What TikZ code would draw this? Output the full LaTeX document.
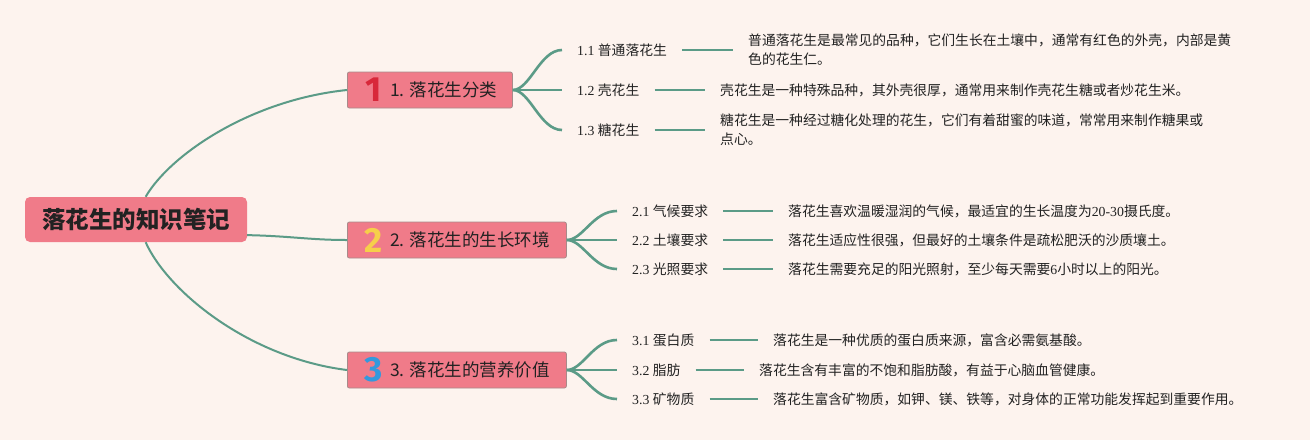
\documentclass[tikz,border=0pt]{standalone}
\usepackage{fontspec}
\setmainfont{Noto Sans CJK SC}
\newfontfamily\ser{Liberation Serif}
\newfontfamily\icf{Fira Sans}
\definecolor{bg}{HTML}{FDF3EE}
\definecolor{boxc}{HTML}{F07B89}
\definecolor{bord}{HTML}{A88A8A}
\definecolor{lc}{HTML}{5B9B87}
\definecolor{txt}{HTML}{222222}
\definecolor{icA}{HTML}{D8283A}
\definecolor{icB}{HTML}{F6CF4A}
\definecolor{icC}{HTML}{3499DD}
\begin{document}
\begin{tikzpicture}[x=1pt,y=-1pt,
 conn/.style={draw=lc, line width=2pt},
 sconn/.style={draw=lc, line width=2.6pt},
 rootbox/.style={fill=boxc, rounded corners=5pt, minimum width=222pt, minimum height=45pt, inner sep=0pt, font=\fontsize{23.5}{26}\selectfont\bfseries, text=txt},
 brbox/.style={fill=boxc, draw=bord, line width=0.8pt, rounded corners=2pt, minimum height=36pt, inner sep=0pt, anchor=west},
 brtext/.style={anchor=west, inner sep=0pt, font=\fontsize{17.5}{20}\selectfont, text=txt},
 icon/.style={inner sep=0pt, font=\icf\bfseries\fontsize{35}{35}\selectfont},
 lab/.style={anchor=west, inner xsep=15pt, inner ysep=0pt, font=\fontsize{13.8}{19}\selectfont, text=txt},
 desc/.style={lab, align=left},
]
\fill[bg] (0,0) rectangle (1310,440);
\useasboundingbox (0,0) rectangle (1310,440);

% root
\node[rootbox] (root) at (136,219.5) {落花生的知识笔记};

% branch boxes
\node[brbox, minimum width=165pt] (b1) at (347,90) {};
\node[brbox, minimum width=219pt] (b2) at (347,240) {};
\node[brbox, minimum width=219pt] (b3) at (347,370) {};
\node[icon, text=icA] (i1) at (374,90) {1};
\node[icon, text=icB] (i2) at (374,240) {2};
\node[icon, text=icC] (i3) at (374,370) {3};
\node[brtext] (t1) at (390,90) {1. 落花生分类};
\node[brtext] (t2) at (390,240) {2. 落花生的生长环境};
\node[brtext] (t3) at (390,370) {3. 落花生的营养价值};

% root connectors
\draw[conn] (root.67) .. controls (170,155) and (250,100) .. (b1.west);
\draw[conn] (root.-8) .. controls (290,236) and (310,240) .. (b2.west);
\draw[conn] (root.-67) .. controls (168,292) and (250,358) .. (b3.west);

% branch 1 children
\node[lab] (c11) at (562,50) {{\ser 1.1 }普通落花生};
\node[lab] (c12) at (562,90) {{\ser 1.2 }壳花生};
\node[lab] (c13) at (562,130) {{\ser 1.3 }糖花生};
\node[desc] (d11) at (733,50) {普通落花生是最常见的品种，它们生长在土壤中，通常有红色的外壳，内部是黄\\色的花生仁。};
\node[desc] (d12) at (705,90) {壳花生是一种特殊品种，其外壳很厚，通常用来制作壳花生糖或者炒花生米。};
\node[desc] (d13) at (705,130) {糖花生是一种经过糖化处理的花生，它们有着甜蜜的味道，常常用来制作糖果或\\点心。};

% branch 2 children
\node[lab] (c21) at (617,211) {{\ser 2.1 }气候要求};
\node[lab] (c22) at (617,240) {{\ser 2.2 }土壤要求};
\node[lab] (c23) at (617,269) {{\ser 2.3 }光照要求};
\node[desc] (d21) at (773,211) {落花生喜欢温暖湿润的气候，最适宜的生长温度为{\ser 20-30}摄氏度。};
\node[desc] (d22) at (773,240) {落花生适应性很强，但最好的土壤条件是疏松肥沃的沙质壤土。};
\node[desc] (d23) at (773,269) {落花生需要充足的阳光照射，至少每天需要{\ser 6}小时以上的阳光。};

% branch 3 children
\node[lab] (c31) at (617,340) {{\ser 3.1 }蛋白质};
\node[lab] (c32) at (617,370) {{\ser 3.2 }脂肪};
\node[lab] (c33) at (617,399) {{\ser 3.3 }矿物质};
\node[desc] (d31) at (758,340) {落花生是一种优质的蛋白质来源，富含必需氨基酸。};
\node[desc] (d32) at (744,370) {落花生含有丰富的不饱和脂肪酸，有益于心脑血管健康。};
\node[desc] (d33) at (758,399) {落花生富含矿物质，如钾、镁、铁等，对身体的正常功能发挥起到重要作用。};

% branch -> child connectors
\draw[sconn] (b1.east) .. controls (530,90) and (540,50) .. (c11.west);
\draw[sconn] (b1.east) -- (c12.west);
\draw[sconn] (b1.east) .. controls (530,90) and (540,130) .. (c13.west);
\draw[sconn] (b2.east) .. controls (583,240) and (593,211) .. (c21.west);
\draw[sconn] (b2.east) -- (c22.west);
\draw[sconn] (b2.east) .. controls (583,240) and (593,269) .. (c23.west);
\draw[sconn] (b3.east) .. controls (583,370) and (593,340) .. (c31.west);
\draw[sconn] (b3.east) -- (c32.west);
\draw[sconn] (b3.east) .. controls (583,370) and (593,399) .. (c33.west);

% child -> description lines
\draw[sconn] (c11.east) -- (d11.west);
\draw[sconn] (c12.east) -- (d12.west);
\draw[sconn] (c13.east) -- (d13.west);
\draw[sconn] (c21.east) -- (d21.west);
\draw[sconn] (c22.east) -- (d22.west);
\draw[sconn] (c23.east) -- (d23.west);
\draw[sconn] (c31.east) -- (d31.west);
\draw[sconn] (c32.east) -- (d32.west);
\draw[sconn] (c33.east) -- (d33.west);
\end{tikzpicture}
\end{document}
